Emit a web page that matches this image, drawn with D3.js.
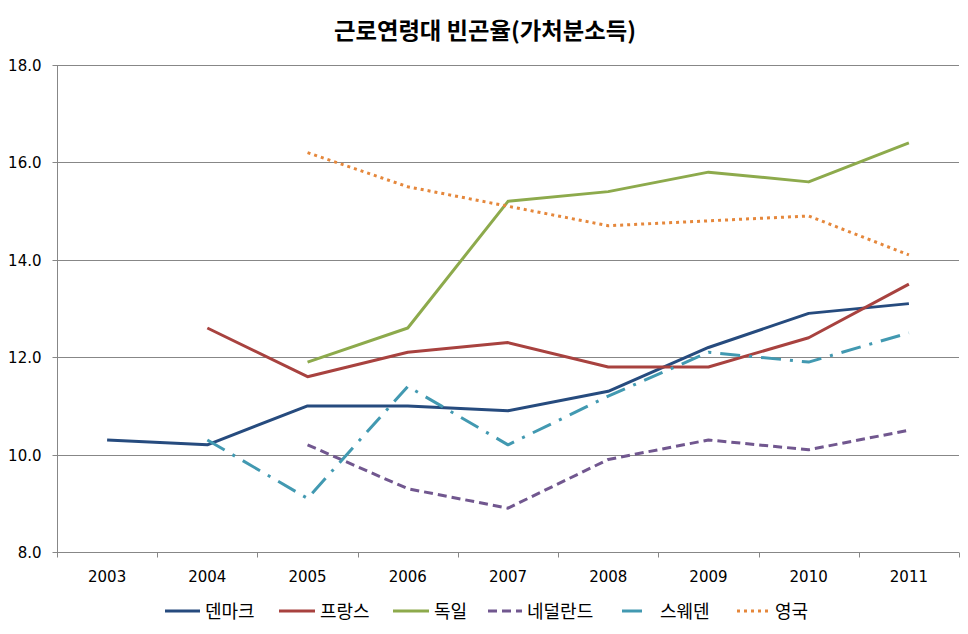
<!DOCTYPE html>
<html>
<head>
<meta charset="utf-8">
<script src="https://cdn.jsdelivr.net/npm/d3@7"></script>
<style>
  body { margin: 0; background: #fff; }
  svg { display: block; }
</style>
</head>
<body>
<svg id="chart" width="968" height="634"></svg>
<script>
const years = ["2003","2004","2005","2006","2007","2008","2009","2010","2011"];
const yTicks = [8, 10, 12, 14, 16, 18];
const seriesNames = ["덴마크","프랑스","독일","네덜란드","스웨덴","영국"];
const denmark     = [10.3, 10.2, 11.0, 11.0, 10.9, 11.3, 12.2, 12.9, 13.1];
const france      = [null, 12.6, 11.6, 12.1, 12.3, 11.8, 11.8, 12.4, 13.5];
const germany     = [null, null, 11.9, 12.6, 15.2, 15.4, 15.8, 15.6, 16.4];
const netherlands = [null, null, 10.2, 9.3, 8.9, 9.9, 10.3, 10.1, 10.5];
const sweden      = [null, 10.3, 9.1, 11.4, 10.2, 11.2, 12.1, 11.9, 12.5];
const uk          = [null, null, 16.2, 15.5, 15.1, 14.7, 14.8, 14.9, 14.1];
const chartTitle = "근로연령대 빈곤율(가처분소득)";

(function () {
const seriesData = [denmark, france, germany, netherlands, sweden, uk];
const styles = [
  {color: "#264B7E", dash: null},
  {color: "#A8423F", dash: null},
  {color: "#8DAA4C", dash: null},
  {color: "#71578F", dash: "9,5"},
  {color: "#4299B1", dash: "20,9,3,9"},
  {color: "#E5873B", dash: "3,4"}
];

const svg = d3.select("#chart");
const pL = 57, pR = 959, pT = 65, pB = 552;

const x = d3.scaleBand().domain(years).range([pL, pR]);
const y = d3.scaleLinear().domain([8, 18]).range([pB, pT]);

// title
svg.append("text")
  .attr("x", 485).attr("y", 39)
  .attr("text-anchor", "middle")
  .attr("font-family", "'Noto Sans CJK KR'")
  .attr("font-weight", "bold")
  .attr("font-size", 23)
  .attr("textLength", 302)
  .attr("lengthAdjust", "spacingAndGlyphs")
  .text(chartTitle);

// gridlines
svg.append("g")
  .selectAll("line")
  .data(yTicks.filter(d => d !== 8))
  .join("line")
  .attr("x1", pL).attr("x2", pR)
  .attr("y1", d => Math.round(y(d)) + 0.5).attr("y2", d => Math.round(y(d)) + 0.5)
  .attr("stroke", "#878787").attr("stroke-width", 1);

// y axis
const yAxis = d3.axisLeft(y).tickValues(yTicks).tickFormat(d3.format(".1f")).tickSize(5).tickPadding(11);
const gy = svg.append("g").attr("transform", `translate(${pL + 0.5},0)`).call(yAxis);
gy.select(".domain").attr("stroke", "#878787").attr("d", `M0,${pT}V${pB + 0.5}`);
gy.selectAll(".tick line").attr("stroke", "#878787");
gy.selectAll(".tick").attr("transform", d => `translate(0,${Math.round(y(d)) + 0.5})`);
gy.selectAll("text").attr("font-family", "'DejaVu Sans'").attr("font-size", 15).attr("fill", "#000").attr("dy", "0.36em");

// x axis
const xAxis = d3.axisBottom(x).tickSize(0).tickPadding(19);
const gx = svg.append("g").attr("transform", `translate(0,${pB + 0.5})`).call(xAxis);
gx.select(".domain").attr("stroke", "#878787").attr("d", `M${pL},0H${pR}`);
gx.selectAll("text").attr("font-family", "'DejaVu Sans'").attr("font-size", 15).attr("fill", "#000");
const bounds = years.map(d => x(d)).concat([x(years[years.length - 1]) + x.bandwidth()]);
gx.append("g").selectAll("line").data(bounds).join("line")
  .attr("x1", d => Math.round(d) + 0.5).attr("x2", d => Math.round(d) + 0.5)
  .attr("y1", 0).attr("y2", 5)
  .attr("stroke", "#878787");

// lines
const line = d3.line()
  .defined(d => d.v !== null)
  .x(d => x(d.year) + x.bandwidth() / 2)
  .y(d => y(d.v));

seriesData.forEach((arr, i) => {
  const pts = arr.map((v, j) => ({year: years[j], v}));
  svg.append("path")
    .datum(pts)
    .attr("d", line)
    .attr("fill", "none")
    .attr("stroke", styles[i].color)
    .attr("stroke-width", 3)
    .attr("stroke-linejoin", "round")
    .attr("stroke-dasharray", styles[i].dash);
});

// legend
const legendX = [165, 279, 393, 488, 622, 737];
const legendLen = [35, 36, 36, 34, 23, 33];
const legendY = 611;
const lg = svg.append("g");
seriesNames.forEach((name, i) => {
  lg.append("line")
    .attr("x1", legendX[i]).attr("x2", legendX[i] + legendLen[i])
    .attr("y1", legendY).attr("y2", legendY)
    .attr("stroke", styles[i].color)
    .attr("stroke-width", 3)
    .attr("stroke-dasharray", styles[i].dash);
  lg.append("text")
    .attr("x", i === 4 ? 660 : legendX[i] + legendLen[i] + 5)
    .attr("y", legendY + 6.5)
    .attr("font-family", "'Noto Sans CJK KR'")
    .attr("font-size", 18)
    .attr("fill", "#000")
    .text(name);
});
})();
</script>
</body>
</html>
